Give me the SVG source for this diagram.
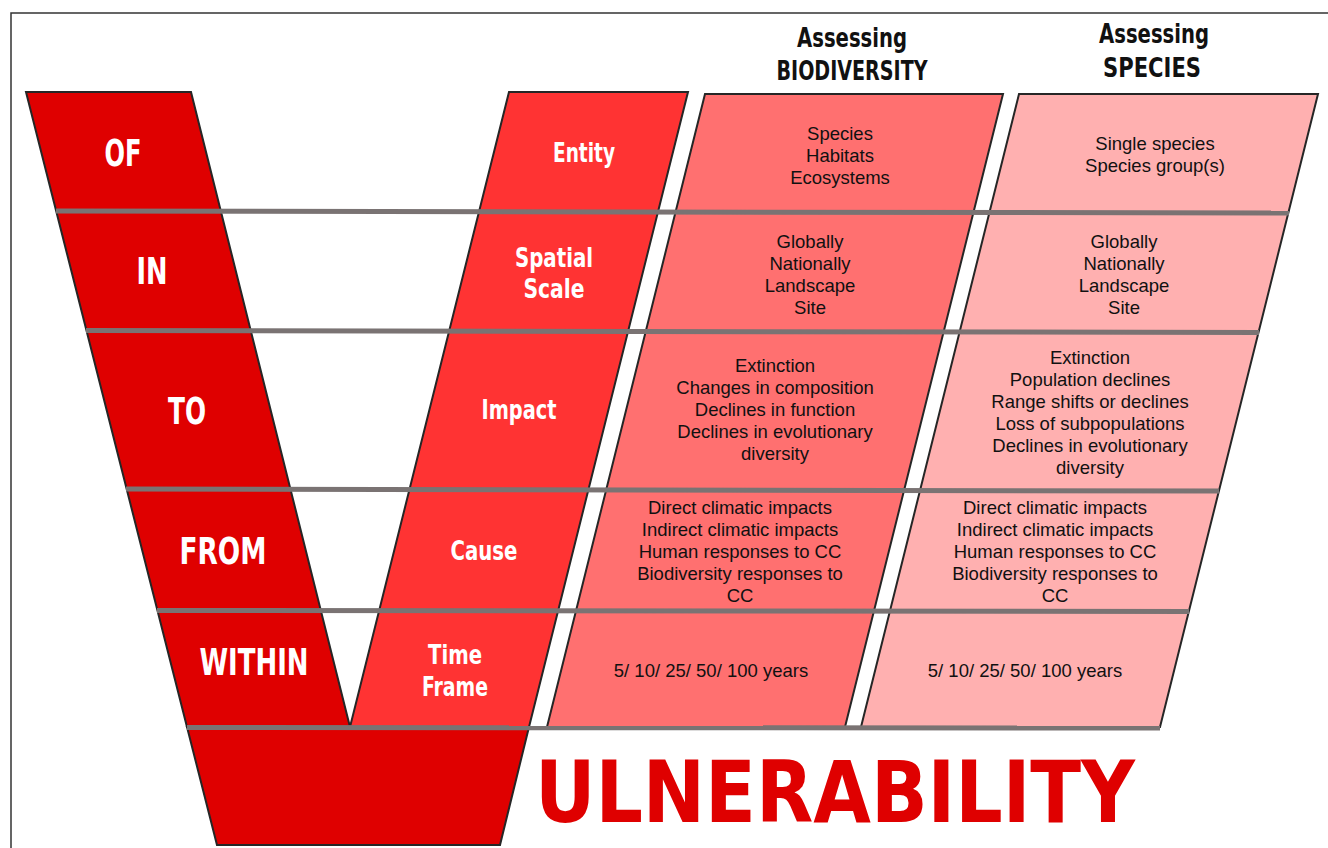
<svg xmlns="http://www.w3.org/2000/svg" width="1328" height="848" viewBox="0 0 1328 848">
<style>
.frame{fill:none;stroke:#333;stroke-width:1.5}
.band{stroke:#262626;stroke-width:2;stroke-linejoin:miter}
.dk{fill:#DF0000}
.br{fill:#FF3333}
.sa{fill:#FF7070}
.pk{fill:#FFB0B0}
.sep{stroke:#7A7373;stroke-width:5;fill:none}
.lbl{font-family:"DejaVu Sans Condensed","Liberation Sans",sans-serif;font-stretch:condensed;font-weight:bold;fill:#fff;text-anchor:middle}
.big{font-size:37px}
.mid{font-size:26px}
.hdr{font-family:"DejaVu Sans Condensed","Liberation Sans",sans-serif;font-stretch:condensed;font-weight:bold;font-size:27px;fill:#111;text-anchor:middle}
.body{font-family:"Liberation Sans",Arial,sans-serif;font-size:18.5px;fill:#111;text-anchor:middle}
.title{font-family:"DejaVu Sans Condensed","Liberation Sans",sans-serif;font-stretch:condensed;font-weight:bold;font-size:85px;fill:#DF0000}
</style>
<rect width="1328" height="848" fill="#fff"/>
<rect class="frame" x="11" y="13" width="1340" height="860"/>

<g id="v-left">
<polygon class="band dk" points="26,92 191,92 350,727 187,727"/>
<polygon class="band dk" points="187,727 529,727 500,845 217,845"/>
</g>
<g id="v-right">
<polygon class="band br" points="509,92 688,92 529,727 350,727"/>
</g>
<g id="col-biodiversity">
<polygon class="band sa" points="705,94 1003,94 845,727 547,727"/>
</g>
<g id="col-species">
<polygon class="band pk" points="1019,94 1318,94 1160,727 861,727"/>
</g>

<g id="connectors">
<line class="sep" x1="56" y1="211" x2="1289" y2="213"/>
<line class="sep" x1="86" y1="330.5" x2="1259" y2="332.5"/>
<line class="sep" x1="126" y1="489" x2="1219" y2="491"/>
<line class="sep" x1="157" y1="610.5" x2="1189" y2="611.5"/>
<line class="sep" x1="187" y1="727.5" x2="1160" y2="728"/>
</g>

<g id="labels-of">
<text class="lbl big" x="123" y="166" textLength="37" lengthAdjust="spacingAndGlyphs">OF</text>
<text class="lbl big" x="152" y="284" textLength="31" lengthAdjust="spacingAndGlyphs">IN</text>
<text class="lbl big" x="187" y="424" textLength="38" lengthAdjust="spacingAndGlyphs">TO</text>
<text class="lbl big" x="223" y="564" textLength="87" lengthAdjust="spacingAndGlyphs">FROM</text>
<text class="lbl big" x="254" y="675" textLength="109" lengthAdjust="spacingAndGlyphs">WITHIN</text>
</g>
<g id="labels-dim">
<text class="lbl mid" x="584" y="162" textLength="62" lengthAdjust="spacingAndGlyphs">Entity</text>
<text class="lbl mid" x="554" y="267" textLength="78" lengthAdjust="spacingAndGlyphs">Spatial</text>
<text class="lbl mid" x="554" y="298" textLength="61" lengthAdjust="spacingAndGlyphs">Scale</text>
<text class="lbl mid" x="519" y="419" textLength="75" lengthAdjust="spacingAndGlyphs">Impact</text>
<text class="lbl mid" x="484" y="560" textLength="67" lengthAdjust="spacingAndGlyphs">Cause</text>
<text class="lbl mid" x="455" y="664" textLength="54" lengthAdjust="spacingAndGlyphs">Time</text>
<text class="lbl mid" x="455" y="696" textLength="66" lengthAdjust="spacingAndGlyphs">Frame</text>
</g>
<g id="header-biodiversity">
<text class="hdr" x="852" y="47" textLength="110" lengthAdjust="spacingAndGlyphs">Assessing</text>
<text class="hdr" x="852" y="80" textLength="151" lengthAdjust="spacingAndGlyphs">BIODIVERSITY</text>
</g>
<g id="header-species">
<text class="hdr" x="1154" y="43" textLength="110" lengthAdjust="spacingAndGlyphs">Assessing</text>
<text class="hdr" x="1152" y="77" textLength="98" lengthAdjust="spacingAndGlyphs">SPECIES</text>
</g>

<g id="text-biodiversity">
<text class="body" x="840" y="139.5">Species</text>
<text class="body" x="840" y="161.5">Habitats</text>
<text class="body" x="840" y="183.5">Ecosystems</text>
<text class="body" x="810" y="247.5">Globally</text>
<text class="body" x="810" y="269.5">Nationally</text>
<text class="body" x="810" y="291.5">Landscape</text>
<text class="body" x="810" y="313.5">Site</text>
<text class="body" x="775" y="372">Extinction</text>
<text class="body" x="775" y="394">Changes in composition</text>
<text class="body" x="775" y="416">Declines in function</text>
<text class="body" x="775" y="438">Declines in evolutionary</text>
<text class="body" x="775" y="460">diversity</text>
<text class="body" x="740" y="514">Direct climatic impacts</text>
<text class="body" x="740" y="536">Indirect climatic impacts</text>
<text class="body" x="740" y="558">Human responses to CC</text>
<text class="body" x="740" y="580">Biodiversity responses to</text>
<text class="body" x="740" y="602">CC</text>
<text class="body" x="711" y="677">5/ 10/ 25/ 50/ 100 years</text>
</g>
<g id="text-species">
<text class="body" x="1155" y="150">Single species</text>
<text class="body" x="1155" y="172">Species group(s)</text>
<text class="body" x="1124" y="247.5">Globally</text>
<text class="body" x="1124" y="269.5">Nationally</text>
<text class="body" x="1124" y="291.5">Landscape</text>
<text class="body" x="1124" y="313.5">Site</text>
<text class="body" x="1090" y="364">Extinction</text>
<text class="body" x="1090" y="386">Population declines</text>
<text class="body" x="1090" y="408">Range shifts or declines</text>
<text class="body" x="1090" y="429.5">Loss of subpopulations</text>
<text class="body" x="1090" y="451.5">Declines in evolutionary</text>
<text class="body" x="1090" y="473.5">diversity</text>
<text class="body" x="1055" y="514">Direct climatic impacts</text>
<text class="body" x="1055" y="536">Indirect climatic impacts</text>
<text class="body" x="1055" y="558">Human responses to CC</text>
<text class="body" x="1055" y="580">Biodiversity responses to</text>
<text class="body" x="1055" y="602">CC</text>
<text class="body" x="1025" y="677">5/ 10/ 25/ 50/ 100 years</text>
</g>
<g id="title">
<text class="title" x="535" y="822" textLength="600" lengthAdjust="spacingAndGlyphs">ULNERABILITY</text>
</g>
</svg>
